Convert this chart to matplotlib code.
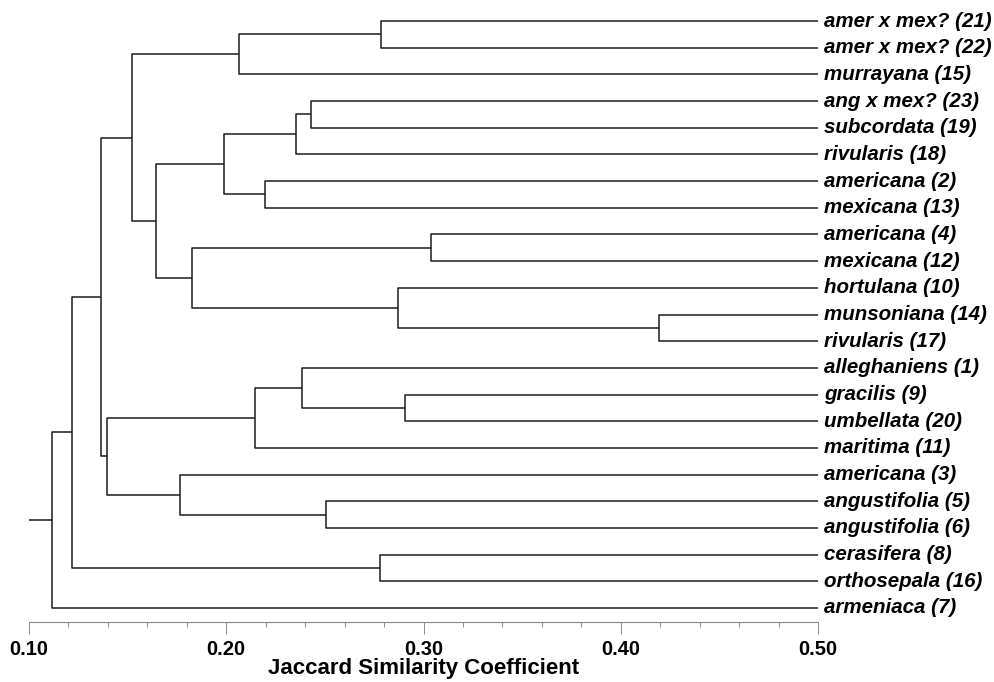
import numpy as np
import matplotlib
matplotlib.use("Agg")
import matplotlib.pyplot as plt

# leaf labels, top to bottom
labels = ["amer x mex? (21)", "amer x mex? (22)", "murrayana (15)", "ang x mex? (23)",
          "subcordata (19)", "rivularis (18)", "americana (2)", "mexicana (13)",
          "americana (4)", "mexicana (12)", "hortulana (10)", "munsoniana (14)",
          "rivularis (17)", "alleghaniens (1)", "gracilis (9)", "umbellata (20)",
          "maritima (11)", "americana (3)", "angustifolia (5)", "angustifolia (6)",
          "cerasifera (8)", "orthosepala (16)", "armeniaca (7)"]

# merges: child a, child b (leaf index < 23, else node 23+k), similarity level
child_a = [0, 23, 3, 25, 6, 26, 8, 11, 10, 29, 28, 24, 14, 13, 36, 18, 17, 37, 34, 20, 41, 43]
child_b = [1, 2, 4, 5, 7, 27, 9, 12, 30, 31, 32, 33, 15, 35, 16, 19, 38, 39, 40, 21, 42, 22]
level = [0.2785, 0.2065, 0.2430, 0.2354, 0.2196, 0.1989, 0.3038, 0.4194, 0.2871, 0.1826,
         0.1644, 0.1522, 0.2906, 0.2384, 0.2146, 0.2506, 0.1766, 0.1395, 0.1365, 0.2779,
         0.1218, 0.1117]

leaf_level = 0.50
root_start = 0.10

n = len(labels)
fig = plt.figure(figsize=(9.94, 6.82), dpi=100)
ax = fig.add_axes([29/994, 60/682, 789/994, 622/682])

pos_y = list(range(n))
pos_x = [leaf_level]*n
lc = '#1c1c1c'
lw = 1.1
for a, b, h in zip(child_a, child_b, level):
    ya, yb = pos_y[a], pos_y[b]
    ax.plot([pos_x[a], h, h, pos_x[b]], [ya, ya, yb, yb], color=lc, lw=lw, solid_capstyle='butt')
    pos_y.append((ya+yb)/2.0)
    pos_x.append(h)

# root stub
ax.plot([root_start, pos_x[-1]], [pos_y[-1], pos_y[-1]], color=lc, lw=lw)

for i, lab in enumerate(labels):
    ax.text(leaf_level+0.0030, i, lab, fontsize=14.8, fontweight='bold', style='italic',
            family='Liberation Sans', va='center', ha='left', clip_on=False)

ax.set_xlim(0.10, 0.50)
ax.set_ylim(22 + 14/26.68, -21/26.68)
for s in ['left', 'top', 'right']:
    ax.spines[s].set_visible(False)
ax.spines['bottom'].set_color('#8a8a8a')
ax.spines['bottom'].set_linewidth(0.8)
ax.set_yticks([])
ax.set_xticks(np.arange(0.10, 0.51, 0.10))
ax.set_xticks(np.arange(0.10, 0.51, 0.02), minor=True)
ax.set_xticklabels(["0.10", "0.20", "0.30", "0.40", "0.50"], fontsize=14.5, fontweight='bold',
                   family='Liberation Sans')
ax.tick_params(axis='x', which='major', length=8.5, width=0.7, color='#8a8a8a', pad=4.5)
ax.tick_params(axis='x', which='minor', length=3.6, width=0.7, color='#8a8a8a')
ax.set_xlabel("Jaccard Similarity Coefficient", fontsize=16, fontweight='bold',
              family='Liberation Sans', labelpad=-1)

fig.savefig("out.png", dpi=100)
